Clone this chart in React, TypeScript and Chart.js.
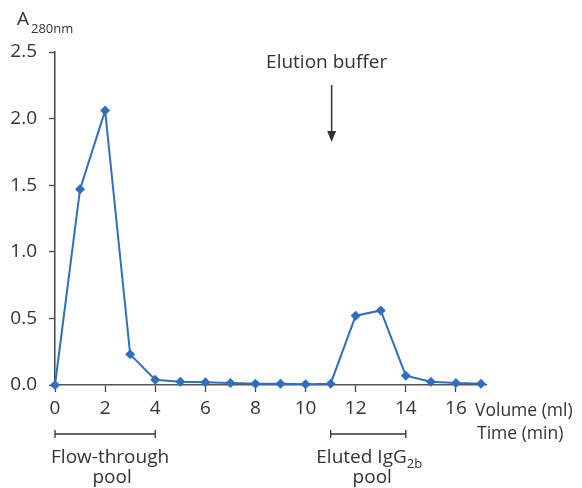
import React, { useEffect, useRef } from "react";
import { Chart, registerables } from "chart.js";

Chart.register(...registerables);

const volumes = [0, 1, 2, 3, 4, 5, 6, 7, 8, 9, 10, 11, 12, 13, 14, 15, 16, 17];
const absorbance = [0, 1.47, 2.06, 0.23, 0.04, 0.025, 0.02, 0.015, 0.01, 0.01, 0.005, 0.01, 0.52, 0.56, 0.07, 0.025, 0.015, 0.01];
const xTickValues = [0, 2, 4, 6, 8, 10, 12, 14, 16];
const yTickValues = [0, 0.5, 1.0, 1.5, 2.0, 2.5];
const flowThroughPool = [0, 4];
const elutedPool = [11, 14];
const elutionStart = 11;

const FONT = "'Open Sans', 'Noto Sans', sans-serif";
const TEXT = "#333333";
const LINE = "#2f6fbd";

const annotations = {
  id: "annotations",
  afterDraw(chart: any) {
    const ctx = chart.ctx;
    const xs = chart.scales.x;
    ctx.save();
    ctx.fillStyle = TEXT;
    ctx.strokeStyle = TEXT;

    // Y axis title A280nm
    ctx.textBaseline = "alphabetic";
    ctx.textAlign = "left";
    ctx.font = `19px ${FONT}`;
    ctx.fillText("A", 17, 25);
    ctx.font = `13px ${FONT}`;
    ctx.fillText("280nm", 31, 33);

    // x axis title
    ctx.font = `17.5px ${FONT}`;
    ctx.fillText("Volume (ml)", 475, 416);
    ctx.fillText("Time (min)", 477, 439);

    // Elution buffer + arrow
    const ax = xs.getPixelForValue(elutionStart) + 1;
    ctx.textAlign = "center";
    ctx.font = `19px ${FONT}`;
    ctx.fillText("Elution buffer", ax - 5, 68);
    ctx.lineWidth = 1.5;
    ctx.beginPath();
    ctx.moveTo(ax, 85);
    ctx.lineTo(ax, 134);
    ctx.stroke();
    ctx.beginPath();
    ctx.moveTo(ax - 4.5, 131);
    ctx.lineTo(ax + 4.5, 131);
    ctx.lineTo(ax, 142);
    ctx.closePath();
    ctx.fill();

    // Brackets
    const bracket = (range: number[]) => {
      const x1 = xs.getPixelForValue(range[0]);
      const x2 = xs.getPixelForValue(range[1]);
      const y = 434;
      ctx.lineWidth = 1.3;
      ctx.beginPath();
      ctx.moveTo(x1, y);
      ctx.lineTo(x2, y);
      ctx.moveTo(x1, y - 4);
      ctx.lineTo(x1, y + 4);
      ctx.moveTo(x2, y - 4);
      ctx.lineTo(x2, y + 4);
      ctx.stroke();
      return (x1 + x2) / 2;
    };
    const c1 = bracket(flowThroughPool);
    ctx.font = `19px ${FONT}`;
    ctx.textAlign = "center";
    ctx.fillText("Flow-through", c1 + 5, 463);
    ctx.fillText("pool", c1 + 7, 483);

    const c2 = bracket(elutedPool);
    // "Eluted IgG2b" with subscript
    const main = "Eluted IgG";
    const sub = "2b";
    ctx.font = `19px ${FONT}`;
    const wMain = ctx.measureText(main).width;
    ctx.font = `13px ${FONT}`;
    const wSub = ctx.measureText(sub).width;
    const startX = c2 + 1 - (wMain + wSub) / 2;
    ctx.textAlign = "left";
    ctx.font = `19px ${FONT}`;
    ctx.fillText(main, startX, 463);
    ctx.font = `13px ${FONT}`;
    ctx.fillText(sub, startX + wMain, 468);
    ctx.font = `19px ${FONT}`;
    ctx.textAlign = "center";
    ctx.fillText("pool", c2 + 4, 483);

    ctx.restore();
  },
};

export default function App() {
  const ref = useRef<HTMLCanvasElement>(null);
  useEffect(() => {
    document.body.style.margin = "0";
    const chart = new Chart(ref.current!, {
      type: "line",
      data: {
        datasets: [
          {
            data: volumes.map((v, i) => ({ x: v, y: absorbance[i] })),
            borderColor: LINE,
            backgroundColor: LINE,
            borderWidth: 2,
            pointStyle: "rectRot",
            pointRadius: 5,
            pointBackgroundColor: LINE,
            pointBorderColor: LINE,
            pointBorderWidth: 0,
            tension: 0,
            clip: false as any,
          },
        ],
      },
      options: {
        animation: false,
        responsive: false,
        maintainAspectRatio: false,
        layout: { padding: { left: 0, top: 52, right: 96, bottom: 0 } },
        plugins: { legend: { display: false }, tooltip: { enabled: false } },
        scales: {
          x: {
            type: "linear",
            min: 0,
            max: 17.2,
            afterBuildTicks: (s: any) => {
              s.ticks = xTickValues.map((v) => ({ value: v }));
            },
            afterFit: (s: any) => {
              s.height = 103;
            },
            ticks: {
              color: TEXT,
              font: { family: FONT, size: 19 },
              padding: 5,
              maxRotation: 0,
              autoSkip: false,
            },
            grid: {
              display: true,
              drawOnChartArea: false,
              drawTicks: true,
              tickLength: 7,
              tickColor: "#444",
              tickWidth: 1.3,
            },
            border: { display: true, color: "#555", width: 1.5 },
          },
          y: {
            type: "linear",
            min: 0,
            max: 2.5,
            afterBuildTicks: (s: any) => {
              s.ticks = yTickValues.map((v) => ({ value: v }));
            },
            afterFit: (s: any) => {
              s.width = 55;
            },
            ticks: {
              color: TEXT,
              font: { family: FONT, size: 19 },
              padding: 12,
              callback: (v: any) => Number(v).toFixed(1),
            },
            grid: {
              display: true,
              drawOnChartArea: false,
              drawTicks: true,
              tickLength: 6,
              tickColor: "#444",
              tickWidth: 1.3,
            },
            border: { display: true, color: "#444", width: 1.5 },
          },
        },
      },
      plugins: [annotations],
    });
    return () => chart.destroy();
  }, []);
  return (
    <div style={{ width: 582, height: 488, background: "#fff" }}>
      <canvas ref={ref} width={582} height={488} style={{ display: "block" }} />
    </div>
  );
}
